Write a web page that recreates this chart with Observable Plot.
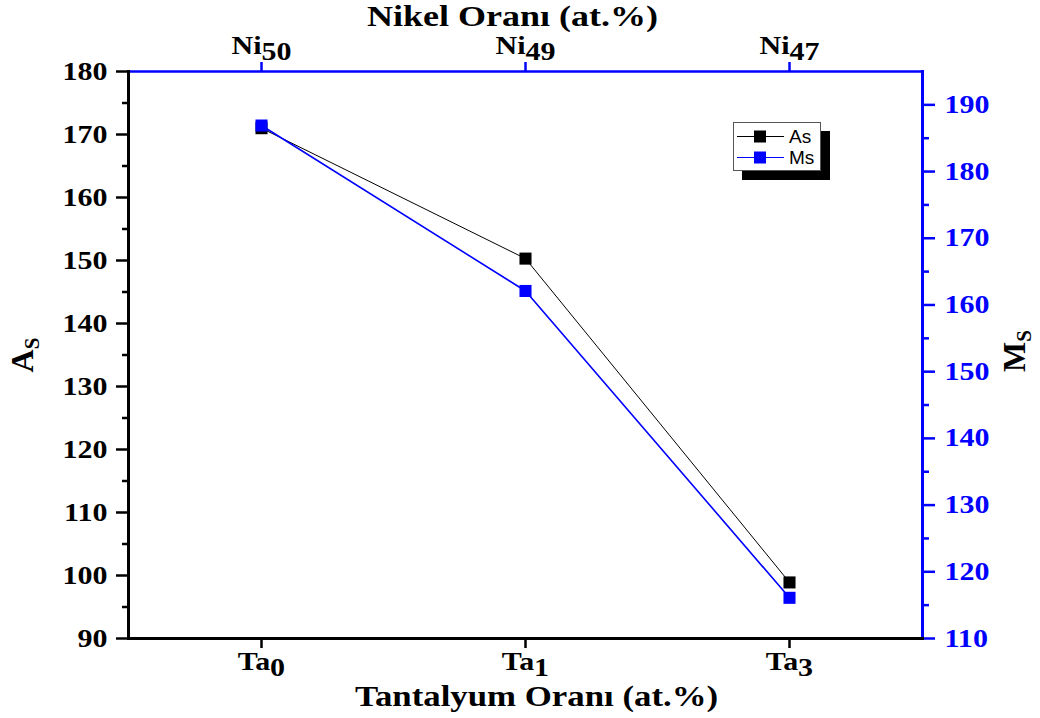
<!DOCTYPE html>
<html><head><meta charset="utf-8">
<script src="https://cdn.jsdelivr.net/npm/d3@7"></script>
<script src="https://cdn.jsdelivr.net/npm/@observablehq/plot@0.6"></script>
<style>
body{margin:0;background:#fff;}
#wrap{position:relative;width:1040px;height:718px;overflow:hidden;}
.legend{position:absolute;left:733px;top:122px;width:88px;height:49px;border:1px solid #555;background:#fff;box-shadow:9px 9px 0 #000;font-family:"Liberation Sans",Arial,sans-serif;font-size:19px;box-sizing:border-box;}
.legend .row{position:absolute;left:0;height:21px;display:flex;align-items:center;}
.legend svg{display:block}
</style></head><body><div id="wrap"></div>
<script>
const categories = ["Ta0", "Ta1", "Ta3"];
const nickelLabels = ["Ni50", "Ni49", "Ni47"];
const asValues = [171.0, 150.3, 98.9];
const msValues = [186.9, 162.1, 116.1];
const asTicks = [90, 100, 110, 120, 130, 140, 150, 160, 170, 180];
const asMinorTicks = [95, 105, 115, 125, 135, 145, 155, 165, 175];
const msTicks = [110, 120, 130, 140, 150, 160, 170, 180, 190];
const msMinorTicks = [115, 125, 135, 145, 155, 165, 175, 185];
const asDomain = [90, 180];
const msDomain = [110, 195];
const seriesNames = ["As", "Ms"];
const seriesColors = ["black", "blue"];

const toLeft = d3.scaleLinear().domain(msDomain).range(asDomain);
const rows = categories.map((c, i) => ({cat: c, as: asValues[i], ms: msValues[i], msL: toLeft(msValues[i])}));
const font = "'Liberation Serif','Times New Roman',serif";

const chart = Plot.plot({
  width: 1040, height: 718,
  marginLeft: 128, marginRight: 118, marginTop: 71, marginBottom: 80,
  style: {fontFamily: font, fontWeight: "bold", fontSize: "25px", background: "transparent", overflow: "visible"},
  x: {type: "point", domain: categories, padding: 0.5, axis: null},
  y: {domain: asDomain, axis: null},
  marks: [
    Plot.axisY({anchor: "left", ticks: asTicks, tickSize: 12, tickPadding: 9, strokeWidth: 2.5, label: null, fontSize: 25, fill: "black"}),
    Plot.axisY({anchor: "left", ticks: asMinorTicks, tickSize: 6, tickFormat: () => "", strokeWidth: 2.5, label: null}),
    Plot.axisY({anchor: "right", ticks: msTicks.map(toLeft), tickFormat: d => String(Math.round(toLeft.invert(d))), tickSize: 12, tickPadding: 10, strokeWidth: 2.5, stroke: "blue", fill: "blue", label: null, fontSize: 25}),
    Plot.axisY({anchor: "right", ticks: msMinorTicks.map(toLeft), tickSize: 6, tickFormat: () => "", strokeWidth: 2.5, stroke: "blue", label: null}),
    Plot.axisX({anchor: "bottom", tickSize: 10, tickPadding: 4, strokeWidth: 2.5, label: null, fontSize: 25, fill: "black"}),
    Plot.axisX({anchor: "top", tickSize: 10, tickPadding: 8, strokeWidth: 2.5, stroke: "blue", fill: "black", label: null, fontSize: 25, tickFormat: d => nickelLabels[categories.indexOf(d)]}),
    Plot.frame({anchor: "top", stroke: "blue", strokeWidth: 2.5}),
    Plot.frame({anchor: "right", stroke: "blue", strokeWidth: 3}),
    Plot.frame({anchor: "left", stroke: "black", strokeWidth: 3}),
    Plot.frame({anchor: "bottom", stroke: "black", strokeWidth: 3}),
    Plot.line(rows, {x: "cat", y: "as", stroke: "black", strokeWidth: 1}),
    Plot.line(rows, {x: "cat", y: "msL", stroke: "blue", strokeWidth: 1.6}),
    Plot.dot(rows, {x: "cat", y: "as", symbol: "square", r: 6.8, fill: "black", stroke: "none"}),
    Plot.dot(rows, {x: "cat", y: "msL", symbol: "square", r: 6.8, fill: "blue", stroke: "none"}),
    Plot.text(["Nikel Oranı (at.%)"], {text: d => d, frameAnchor: "top", lineAnchor: "middle", dy: -55, dx: -13, fontSize: 30, fontWeight: "bold", fill: "black"}),
    Plot.text(["Tantalyum Oranı (at.%)"], {text: d => d, frameAnchor: "bottom", lineAnchor: "middle", dy: 58, dx: 11, fontSize: 29, fontWeight: "bold", fill: "black"}),
    Plot.text(["AS"], {text: d => d, frameAnchor: "left", lineAnchor: "middle", dx: -106, textAnchor: "middle", rotate: -90, fontSize: 32, fontWeight: "bold", fill: "black"}),
    Plot.text(["MS"], {text: d => d, frameAnchor: "right", lineAnchor: "middle", dx: 92, dy: -4, textAnchor: "middle", rotate: -90, fontSize: 32, fontWeight: "bold", fill: "black"})
  ]
});

// subscripts
const NS = "http://www.w3.org/2000/svg";
chart.querySelectorAll("text").forEach(t => {
  const s = t.textContent;
  let m = s.match(/^(Ta|Ni)(\d+)$/);
  let subSize = null, shift = 0;
  if (m) { subSize = 25; shift = 6; }
  else if ((m = s.match(/^(A|M)(S)$/))) { subSize = 21; shift = 6; t.dataset.rot = "1"; }
  if (!m) return;
  t.textContent = "";
  const a = document.createElementNS(NS, "tspan"); a.textContent = m[1];
  const b = document.createElementNS(NS, "tspan"); b.textContent = m[2];
  b.setAttribute("dy", shift); b.setAttribute("font-size", subSize);
  t.appendChild(a); t.appendChild(b);
});

const wrap = document.getElementById("wrap");
wrap.appendChild(chart);

// widen glyphs horizontally like the reference
chart.querySelectorAll("text").forEach(t => {
  if (t.dataset.rot || !t.textContent) return;
  const L = t.getComputedTextLength();
  if (L > 0) { t.setAttribute("textLength", (L * 1.2).toFixed(1)); t.setAttribute("lengthAdjust", "spacingAndGlyphs"); }
});

// legend
const leg = document.createElement("div");
leg.className = "legend";
seriesNames.forEach((name, i) => {
  const row = document.createElement("div");
  row.className = "row";
  row.style.top = (3 + i * 21) + "px";
  const c = seriesColors[i];
  row.innerHTML = `<svg width="52" height="21"><line x1="3" x2="50" y1="10.5" y2="10.5" stroke="${c}" stroke-width="1.2"/><rect x="20" y="4.5" width="12" height="12" fill="${c}"/></svg><span style="margin-left:3px">${name}</span>`;
  leg.appendChild(row);
});
wrap.appendChild(leg);
</script>
</body></html>
